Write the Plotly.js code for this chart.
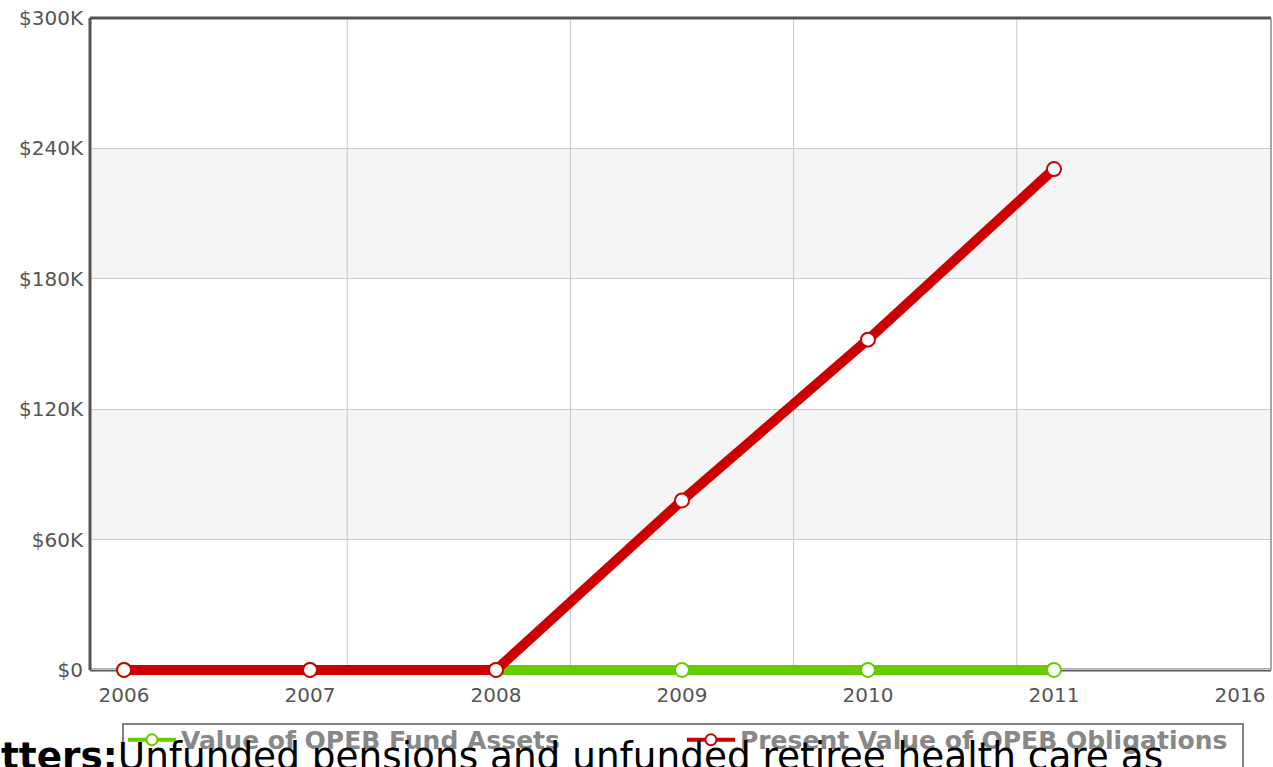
<!DOCTYPE html>
<html>
<head>
<meta charset="utf-8">
<script src="https://cdn.plot.ly/plotly-3.0.1.min.js"></script>
<style>
html,body{margin:0;padding:0;overflow:hidden;background:#fff;}
#chart{position:absolute;left:0;top:0;width:1273px;height:767px;}
#overlay{position:absolute;left:1px;top:738px;font-family:"DejaVu Sans",sans-serif;font-size:37.4px;line-height:37px;color:#000;white-space:nowrap;z-index:10;pointer-events:none;}
#overlay b{font-weight:bold;}
</style>
</head>
<body>
<div id="chart"></div>
<div id="overlay"><b>tters:</b>Unfunded pensions and unfunded retiree health care as</div>
<script>
// Data
var years = ["2006", "2007", "2008", "2009", "2010", "2011"];
var xCategories = ["2006", "2007", "2008", "2009", "2010", "2011", "2016"];
var fundAssets = [0, 0, 0, 0, 0, 0];
var obligations = [0, 0, 0, 78000, 152000, 230500];
var seriesNames = ["Value of OPEB Fund Assets", "Present Value of OPEB Obligations"];
var yTickVals = [0, 60000, 120000, 180000, 240000, 300000];
var yTickText = ["$0", "$60K", "$120K", "$180K", "$240K", "$300K"];

var green = "#66cc00", red = "#cc0000";
var yRange = [-6000, 300000];
var yMin = 0, yMax = 300000;
var yFrac0 = (yMin - yRange[0]) / (yRange[1] - yRange[0]);

function lineTrace(y, name, color) {
  return {
    x: years, y: y, name: name, type: "scatter", mode: "lines+markers",
    line: {color: color, width: 10}, cliponaxis: false, showlegend: false,
    marker: {symbol: "circle", size: 14, color: "#ffffff", line: {color: color, width: 2}}
  };
}
function legendTrace(name, color) {
  return {
    x: [null], y: [null], name: name, type: "scatter", mode: "lines+markers",
    line: {color: color, width: 4},
    marker: {symbol: "circle", size: 11, color: "#ffffff", line: {color: color, width: 2}}
  };
}

var traces = [
  lineTrace(fundAssets, seriesNames[0], green),
  lineTrace(obligations, seriesNames[1], red),
  legendTrace(seriesNames[0], green),
  legendTrace(seriesNames[1], red)
];

var shapes = [];
// alternating bands
[[60000, 120000], [180000, 240000]].forEach(function (b) {
  shapes.push({type: "rect", xref: "paper", yref: "y", x0: 0, x1: 1, y0: b[0], y1: b[1],
    fillcolor: "#f5f5f5", line: {width: 0}, layer: "below"});
});
// vertical grid lines
[1.2, 2.4, 3.6, 4.8].forEach(function (gx) {
  shapes.push({type: "line", xref: "x", yref: "y", x0: gx, x1: gx, y0: yMin, y1: yMax,
    line: {color: "#c8c8c8", width: 1}, layer: "below"});
});
// frame
shapes.push({type: "line", xref: "paper", yref: "y", x0: 0, x1: 1, y0: yMin, y1: yMin,
  line: {color: "#555555", width: 3}, layer: "between"});
shapes.push({type: "line", xref: "paper", yref: "paper", x0: 0, x1: 1, y0: 1, y1: 1,
  line: {color: "#555555", width: 3}, layer: "above"});
shapes.push({type: "line", xref: "paper", yref: "paper", x0: 0, x1: 0, y0: yFrac0, y1: 1,
  line: {color: "#555555", width: 3}, layer: "above"});
shapes.push({type: "line", xref: "paper", yref: "paper", x0: 1, x1: 1, y0: yFrac0, y1: 1,
  line: {color: "#8a8a8a", width: 1.5}, layer: "above"});
// legend box
shapes.push({type: "rect", xref: "paper", yref: "paper",
  x0: 33 / 1181, x1: 1153 / 1181, y0: -100 / 665, y1: -41 / 665,
  line: {color: "#808080", width: 2}, fillcolor: "rgba(0,0,0,0)", layer: "above"});

var tickFont = {family: "DejaVu Sans, sans-serif", size: 20, color: "#555555"};

var layout = {
  width: 1273, height: 767,
  margin: {l: 90, r: 2, t: 18, b: 84, autoexpand: false},
  paper_bgcolor: "#ffffff", plot_bgcolor: "#ffffff",
  showlegend: true,
  hovermode: false,
  xaxis: {
    type: "category", categoryorder: "array", categoryarray: xCategories,
    range: [-0.183, 6.167], showgrid: false, zeroline: false, showline: false,
    ticks: "", tickfont: tickFont, ticklabelstandoff: -2
  },
  yaxis: {
    range: yRange, tickvals: yTickVals, ticktext: yTickText,
    showgrid: true, gridcolor: "#cccccc", gridwidth: 1, zeroline: false, showline: false,
    ticks: "", tickfont: tickFont, ticklabelstandoff: 6
  },
  legend: {
    orientation: "h", x: 0.0279, xanchor: "left", y: -0.0511, yanchor: "top",
    borderwidth: 0, bgcolor: "rgba(255,255,255,0)",
    font: {family: "DejaVu Sans, sans-serif", size: 25, color: "#888888", weight: "bold"},
    entrywidth: 496, entrywidthmode: "pixels", itemwidth: 48, traceorder: "normal"
  },
  shapes: shapes
};

Plotly.newPlot("chart", traces, layout, {displayModeBar: false, staticPlot: true});
</script>
</body>
</html>
